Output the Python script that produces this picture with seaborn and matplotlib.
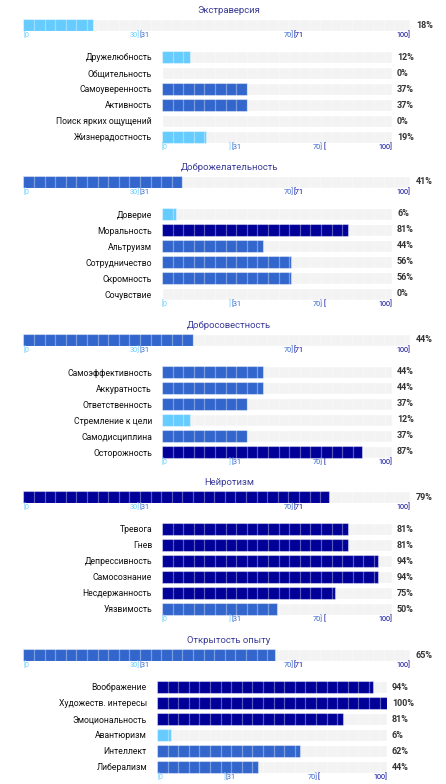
import matplotlib
matplotlib.use("Agg")
import matplotlib.pyplot as plt
import matplotlib.transforms as mtransforms
import seaborn as sns

# данные
traits = ["Экстраверсия", "Доброжелательность", "Добросовестность", "Нейротизм", "Открытость опыту"]
trait_scores = [18, 41, 44, 79, 65]

extraversion_facets = ["Дружелюбность", "Общительность", "Самоуверенность", "Активность",
                       "Поиск ярких ощущений", "Жизнерадостность"]
extraversion_scores = [12, 0, 37, 37, 0, 19]

agreeableness_facets = ["Доверие", "Моральность", "Альтруизм", "Сотрудничество", "Скромность", "Сочувствие"]
agreeableness_scores = [6, 81, 44, 56, 56, 0]

conscientiousness_facets = ["Самоэффективность", "Аккуратность", "Ответственность", "Стремление к цели",
                            "Самодисциплина", "Осторожность"]
conscientiousness_scores = [44, 44, 37, 12, 37, 87]

neuroticism_facets = ["Тревога", "Гнев", "Депрессивность", "Самосознание", "Несдержанность", "Уязвимость"]
neuroticism_scores = [81, 81, 94, 94, 75, 50]

openness_facets = ["Воображение", "Художеств. интересы", "Эмоциональность", "Авантюризм", "Интеллект",
                   "Либерализм"]
openness_scores = [94, 100, 81, 6, 62, 44]

facets = [extraversion_facets, agreeableness_facets, conscientiousness_facets, neuroticism_facets, openness_facets]
facet_scores = [extraversion_scores, agreeableness_scores, conscientiousness_scores, neuroticism_scores,
                openness_scores]

# цвета
LIGHT = "#66ccff"
MID = "#3366cc"
DARK = "#000099"
BG = "#f3f3f3"


def level_color(v):
    if v <= 30:
        return LIGHT
    elif v <= 70:
        return MID
    return DARK


sns.set_theme(style="white")
plt.rcParams['font.family'] = ['Roboto', 'DejaVu Sans']

W, H = 446, 784
fig = plt.figure(figsize=(W / 100, H / 100), dpi=100)

# раскладка в пикселях
main_y = [25, 182, 340, 497, 655]
row_y = [57, 214, 372, 529, 687]
sub_x0 = [162, 162, 162, 162, 157]
main_x0, main_w = 23.3, 386.7
sub_w = 230
row_step = 16
bar_h = 12
seg_px = 10.6


def px_axes(x0, top, w, h):
    # top - верх области в пикселях от верха картинки
    return fig.add_axes([x0 / W, 1 - (top + h) / H, w / W, h / H])


def separators(ax, width_px):
    step = seg_px / width_px * 100
    k = 1
    while k * step < 99.5:
        ax.axvline(k * step, color="white", alpha=0.35, lw=0.9, zorder=5)
        k += 1


def bracket_ticks(ax, sub):
    tr = mtransforms.blended_transform_factory(ax.transData, ax.transAxes)
    fs = 5.2
    y = -0.04 if not sub else 0.01
    ax.text(0, y, "[0", color=LIGHT, fontsize=fs, ha="left", va="top", transform=tr)
    ax.text(30, y, "]" if sub else "30]", color=LIGHT, fontsize=fs, ha="right", va="top", transform=tr)
    ax.text(30, y, "[31", color=MID, fontsize=fs, ha="left", va="top", transform=tr)
    ax.text(70, y, "70]", color=MID, fontsize=fs, ha="right", va="top", transform=tr)
    ax.text(70, y, "[" if sub else "[71", color=DARK, fontsize=fs, ha="left", va="top", transform=tr)
    ax.text(100, y, "100]", color=DARK, fontsize=fs, ha="right", va="top", transform=tr)


def clean(ax):
    for s in ax.spines.values():
        s.set_visible(False)
    ax.set_xlim(0, 100)
    ax.set_xticks([])
    ax.set_xlabel("")
    ax.set_ylabel("")


for i, trait in enumerate(traits):
    # заголовок
    fig.text(229 / W, 1 - (main_y[i] - 14.5) / H, trait, ha="center", va="center",
             fontsize=6.8, color="#3b3b98")

    # общий балл
    ax = px_axes(main_x0, main_y[i] - bar_h / 2, main_w, bar_h)
    sns.barplot(x=[100], y=[trait], color=BG, width=1, ax=ax, zorder=1)
    sns.barplot(x=[trait_scores[i]], y=[trait], color=level_color(trait_scores[i]), width=1, ax=ax,
                saturation=1, linewidth=0.8, edgecolor=(1, 1, 1, 0.4), zorder=2)
    separators(ax, main_w)
    clean(ax)
    ax.set_ylim(0.5, -0.5)
    ax.set_yticks([])
    ax.text(1 + 6 / main_w, 0.5, f"{trait_scores[i]}%", transform=ax.transAxes, ha="left", va="center",
            fontsize=6.5, fontweight="bold", color="#333333")
    bracket_ticks(ax, sub=False)

    # фасеты
    labels = facets[i]
    vals = facet_scores[i]
    n = len(labels)
    ax = px_axes(sub_x0[i], row_y[i] - row_step / 2, sub_w, n * row_step)
    sns.barplot(x=[100] * n, y=labels, color=BG, width=bar_h / row_step, ax=ax, zorder=1)
    sns.barplot(x=vals, y=labels, hue=labels, palette=[level_color(v) for v in vals], legend=False,
                width=bar_h / row_step, ax=ax, saturation=1, linewidth=0.8, edgecolor=(1, 1, 1, 0.4), zorder=2)
    separators(ax, sub_w)
    clean(ax)
    ax.set_ylim(n - 0.5, -0.5)
    ax.tick_params(axis="y", length=0, pad=7.2, labelsize=6.2, labelcolor="#111111")
    tr = mtransforms.blended_transform_factory(ax.transAxes, ax.transData)
    for j, v in enumerate(vals):
        ax.text(1 + 5 / sub_w, j, f"{v}%", transform=tr, ha="left", va="center",
                fontsize=6.5, fontweight="bold", color="#333333")
    bracket_ticks(ax, sub=True)

fig.savefig("out.png", dpi=100)
